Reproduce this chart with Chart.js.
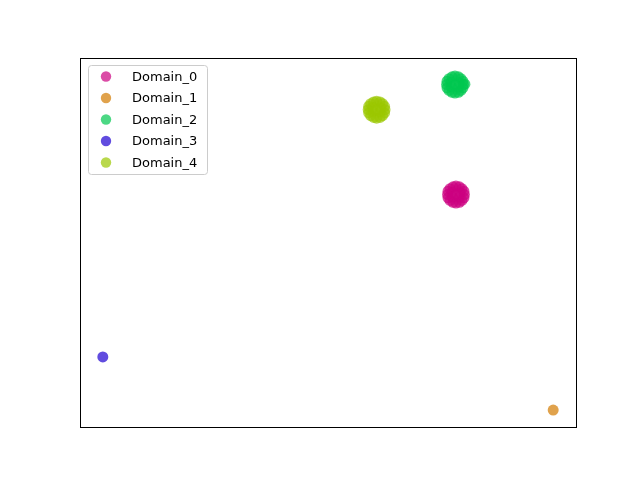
<!DOCTYPE html>
<html>
<head>
<meta charset="utf-8">
<script src="https://cdn.jsdelivr.net/npm/chart.js@4"></script>
<style>
  html, body { margin: 0; padding: 0; background: #fff; }
  #wrap { width: 640px; height: 480px; }
</style>
</head>
<body>
<div id="wrap"><canvas id="chart" width="640" height="480"></canvas></div>
<script>
// Series names and colours
const domains = ["Domain_0", "Domain_1", "Domain_2", "Domain_3", "Domain_4"]
const colors = [
  "rgba(204, 0, 128, 0.7)",
  "rgba(211, 122, 0, 0.7)",
  "rgba(0, 200, 80, 0.7)",
  "rgba(30, 0, 210, 0.7)",
  "rgba(155, 200, 0, 0.7)",
]

// Point values (arbitrary units)
const domain0X = [77.5, 77.4, 77.0, 76.5, 75.8, 75.2, 74.6, 74.2, 74.1, 74.2, 74.6, 75.2, 75.8, 76.5, 77.0, 77.4,
  75.8, 76.6, 75.0, 75.1, 76.5]
const domain0Y = [63.0, 63.9, 64.6, 65.1, 65.3, 65.1, 64.6, 63.9, 63.0, 62.1, 61.4, 60.9, 60.7, 60.9, 61.4, 62.1,
  63.0, 63.5, 63.6, 62.3, 62.3]
const domain1X = [95.4]
const domain1Y = [4.6]
const domain2X = [77.3, 77.2, 76.8, 76.3, 75.6, 75.0, 74.4, 74.0, 73.9, 74.0, 74.4, 75.0, 75.6, 76.3, 76.8, 77.2,
  75.6, 76.4, 74.8, 74.9, 76.3, 77.6]
const domain2Y = [92.8, 93.7, 94.4, 94.9, 95.1, 94.9, 94.4, 93.7, 92.8, 91.9, 91.2, 90.7, 90.5, 90.7, 91.2, 91.9,
  92.8, 93.3, 93.4, 92.2, 92.1, 92.9]
const domain3X = [4.6]
const domain3Y = [19.0]
const domain4X = [61.5, 61.4, 61.0, 60.5, 59.8, 59.2, 58.6, 58.2, 58.1, 58.2, 58.6, 59.2, 59.8, 60.5, 61.0, 61.4,
  59.8, 60.6, 59.0, 59.1, 60.5]
const domain4Y = [86.0, 86.9, 87.6, 88.1, 88.3, 88.1, 87.6, 86.9, 86.0, 85.1, 84.4, 83.9, 83.7, 83.9, 84.4, 85.1,
  86.0, 86.5, 86.6, 85.4, 85.4]

const xs = [domain0X, domain1X, domain2X, domain3X, domain4X]
const ys = [domain0Y, domain1Y, domain2Y, domain3Y, domain4Y]

// Frame around the plot area
const framePlugin = {
  id: "frame",
  afterDraw(chart) {
    const { ctx, chartArea: a } = chart
    ctx.save()
    ctx.strokeStyle = "#000"
    ctx.lineWidth = 1
    ctx.strokeRect(Math.round(a.left) + 0.5, Math.round(a.top) + 0.5,
      Math.round(a.right - a.left), Math.round(a.bottom - a.top))
    ctx.restore()
  },
}

// Legend drawn inside the plot area, upper left
const innerLegend = {
  id: "innerLegend",
  afterDraw(chart) {
    const { ctx, chartArea: a } = chart
    const x0 = a.left + 8, y0 = a.top + 7, w = 119, h = 109, r = 3
    ctx.save()
    ctx.fillStyle = "rgba(255,255,255,0.8)"
    ctx.strokeStyle = "#cccccc"
    ctx.lineWidth = 1
    ctx.beginPath()
    ctx.roundRect(x0 + 0.5, y0 + 0.5, w, h, r)
    ctx.fill()
    ctx.stroke()
    ctx.font = "13px 'DejaVu Sans'"
    ctx.textBaseline = "middle"
    chart.data.datasets.forEach((ds, i) => {
      const cy = y0 + 11.5 + i * 21.5
      ctx.fillStyle = ds.backgroundColor
      ctx.beginPath()
      ctx.arc(x0 + 18, cy, 5.2, 0, Math.PI * 2)
      ctx.fill()
      ctx.fillStyle = "#000"
      ctx.fillText(ds.label, x0 + 44, cy + 1)
    })
    ctx.restore()
  },
}

new Chart(document.getElementById("chart").getContext("2d"), {
  type: "scatter",
  data: {
    datasets: domains.map((name, i) => ({
      label: name,
      data: xs[i].map((x, j) => ({ x, y: ys[i][j] })),
      backgroundColor: colors[i],
      borderWidth: 0,
      pointRadius: 5.5,
      pointHoverRadius: 5.5,
    })),
  },
  options: {
    responsive: false,
    animation: false,
    layout: { padding: { left: 80, right: 64, top: 58, bottom: 53 } },
    plugins: {
      legend: { display: false },
      tooltip: { enabled: false },
    },
    scales: {
      x: { display: false, min: 0, max: 100 },
      y: { display: false, min: 0, max: 100 },
    },
  },
  plugins: [framePlugin, innerLegend],
})
</script>
</body>
</html>
